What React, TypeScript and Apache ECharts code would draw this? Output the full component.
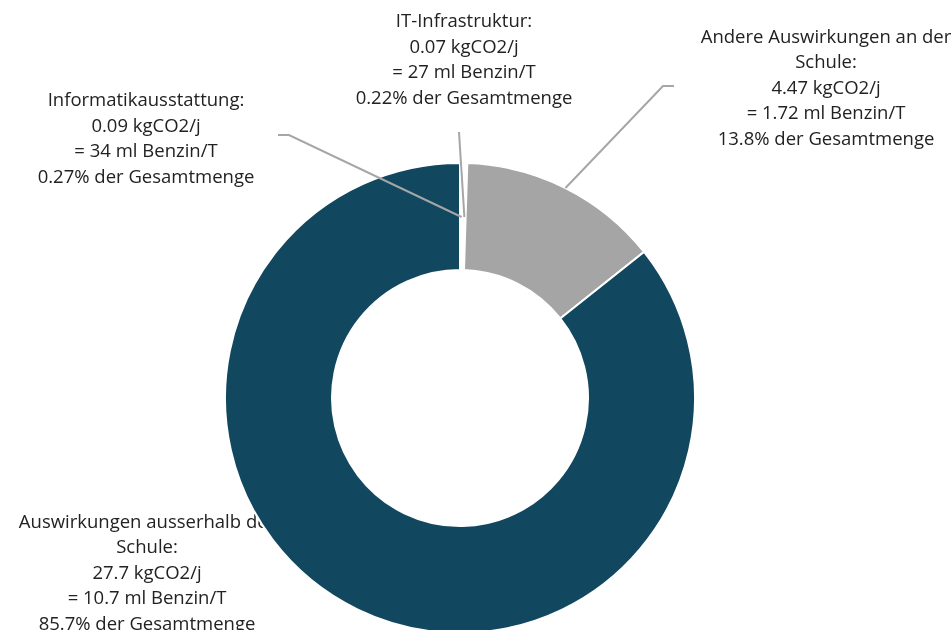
import React, { useEffect, useRef } from "react";
import * as echarts from "echarts";

const categories = [
  "Informatikausstattung:",
  "IT-Infrastruktur:",
  "Andere Auswirkungen an der\nSchule:",
  "Auswirkungen ausserhalb der\nSchule:",
];
const values = [0.09, 0.07, 4.47, 27.7];
const benzin = ["34 ml", "27 ml", "1.72 ml", "10.7 ml"];
const percents = ["0.27%", "0.22%", "13.8%", "85.7%"];
const colors = ["#ffffff", "#ffffff", "#a5a5a5", "#11475f"];

const CX = 460;
const CY = 398;
const R_IN = 128;
const R_OUT = 235;

// label centres and leader elbows (layout only)
const labelPos = [
  { x: 146, y: 137, elbow: [[278, 135], [289, 135]], r: 181 },
  { x: 464, y: 58, elbow: [[459, 132]], r: 181 },
  { x: 826, y: 86, elbow: [[674, 86], [663, 86]], r: 235 },
  { x: 147, y: 571, elbow: null as null | number[][], r: 0 },
];

export default function App() {
  const ref = useRef<HTMLDivElement>(null);
  useEffect(() => {
    if (!ref.current) return;
    const chart = echarts.init(ref.current, undefined, { renderer: "svg" });
    const total = values.reduce((a, b) => a + b, 0);
    const mids: number[] = [];
    let acc = 0;
    values.forEach((v) => {
      mids.push((acc + v / 2) / total);
      acc += v;
    });
    const ends = mids.map((m, i) => {
      const t = m * Math.PI * 2;
      const r = labelPos[i].r;
      return [CX + r * Math.sin(t), CY - r * Math.cos(t)];
    });

    const labelStyle = {
      position: "outside",
      fontFamily: "Open Sans",
      fontSize: 18.5,
      lineHeight: 25.5,
      color: "#222222",
      align: "center",
      formatter: (p: any) => {
        const i = p.dataIndex;
        return `${categories[i]}\n${values[i]} kgCO2/j\n= ${benzin[i]} Benzin/T\n${percents[i]} der Gesamtmenge`;
      },
    };
    const layout = (params: any) => {
      const i = params.dataIndex;
      const lp = labelPos[i];
      const out: any = {
        x: lp.x,
        y: lp.y,
        align: "center",
        verticalAlign: "middle",
      };
      if (lp.elbow) {
        out.labelLinePoints = [...lp.elbow, ends[i]];
      }
      return out;
    };
    const base = {
      type: "pie",
      center: [CX, CY],
      radius: [R_IN, R_OUT],
      startAngle: 90,
      clockwise: true,
      avoidLabelOverlap: false,
      labelLayout: layout,
    };

    chart.setOption({
      animation: false,
      series: [
        // labels behind the ring (bottom-left label)
        {
          ...base,
          z: 1,
          silent: true,
          itemStyle: { color: "rgba(0,0,0,0)" },
          label: { ...labelStyle, show: true },
          labelLine: { show: false },
          data: values.map((v, i) => ({
            value: v,
            name: categories[i],
            label: { show: i === 3 },
          })),
        },
        // the ring
        {
          ...base,
          z: 2,
          itemStyle: { borderColor: "#ffffff", borderWidth: 2 },
          label: { show: false },
          labelLine: { show: false },
          data: values.map((v, i) => ({
            value: v,
            name: categories[i],
            itemStyle: { color: colors[i] },
          })),
        },
        // labels and leader lines above the ring
        {
          ...base,
          z: 3,
          silent: true,
          itemStyle: { color: "rgba(0,0,0,0)" },
          label: { ...labelStyle, show: true },
          labelLine: {
            show: true,
            lineStyle: { color: "#a6a6a6", width: 2 },
          },
          data: values.map((v, i) => ({
            value: v,
            name: categories[i],
            label: { show: i !== 3 },
            labelLine: { show: i !== 3 },
          })),
        },
      ],
    });
    return () => chart.dispose();
  }, []);
  return (
    <div
      ref={ref}
      style={{ position: "fixed", left: 0, top: 0, width: 951, height: 630 }}
    />
  );
}
